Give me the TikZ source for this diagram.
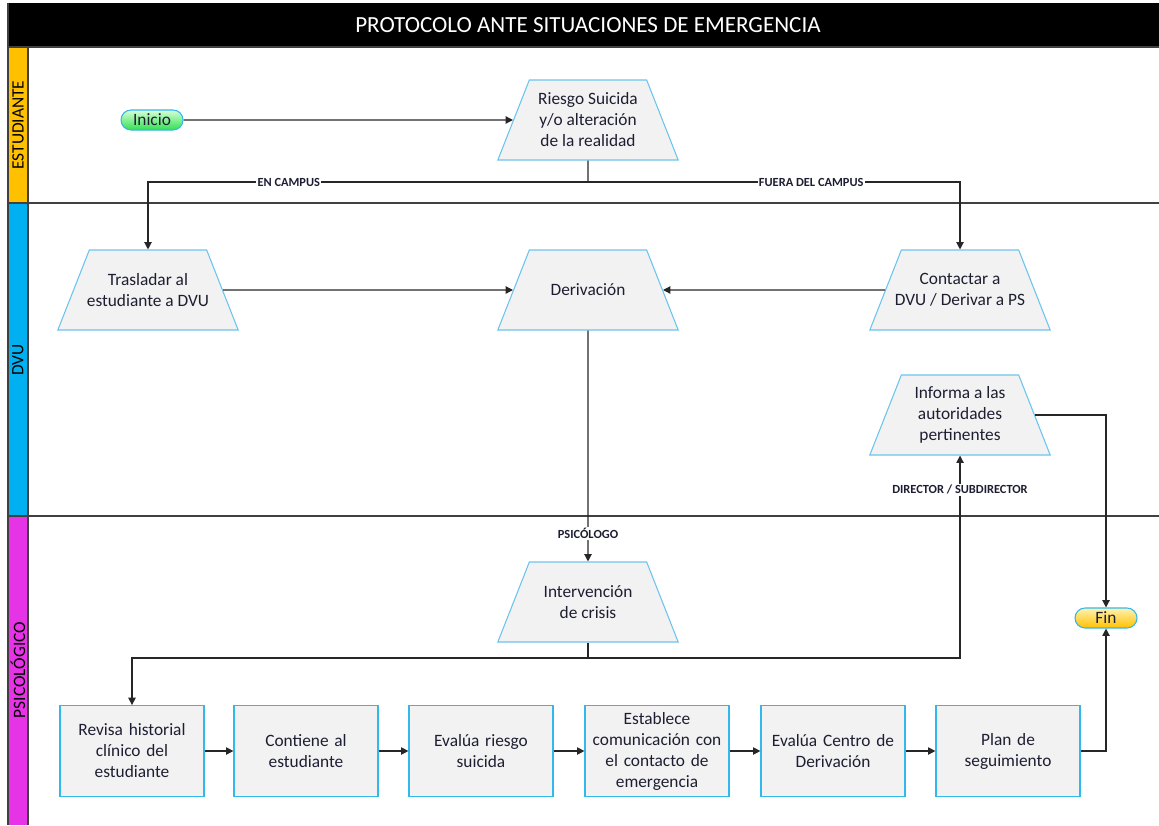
\documentclass[tikz,border=0pt]{standalone}
\usepackage{fontspec}
\setmainfont{Carlito}
\usetikzlibrary{shapes.geometric,arrows.meta,positioning}
\definecolor{boxfill}{HTML}{F2F2F2}
\definecolor{trapline}{HTML}{6CC4EE}
\definecolor{rectline}{HTML}{33B8EC}
\definecolor{txt}{HTML}{1E1E32}
\definecolor{laneest}{HTML}{FFC000}
\definecolor{lanedvu}{HTML}{00B0F0}
\definecolor{lanepsi}{HTML}{E633E6}
\definecolor{inicioA}{HTML}{D8FFD8}
\definecolor{inicioB}{HTML}{30E050}
\definecolor{finA}{HTML}{FFF2B0}
\tikzset{
  trap/.style={trapezium,trapezium stretches body,trapezium left angle=68.5,trapezium right angle=68.5,
    minimum width=135pt,inner xsep=-6pt,inner ysep=7.5pt,fill=boxfill,draw=trapline,line width=0.8pt,
    text=txt,font=\fontsize{13}{15.75}\selectfont,
    execute at begin node={\begin{minipage}[c][45pt][c]{100pt}\centering},
    execute at end node={\end{minipage}}},
  task/.style={rectangle,minimum width=108pt,minimum height=68pt,text width=104pt,inner sep=1pt,
    fill=boxfill,draw=rectline,line width=0.9pt,align=center,text=txt,font=\fontsize{13}{15.75}\selectfont},
  pill/.style={rectangle,rounded corners=7.5pt,minimum width=46.5pt,minimum height=15pt,inner sep=1pt,
    draw=rectline,line width=0.8pt,text=txt,font=\fontsize{13}{14}\selectfont},
  arr/.style={draw=black!85,line width=0.9pt,-{Triangle[length=5.5pt,width=5.5pt]}},
  conn/.style={draw=black!85,line width=0.9pt},
  lbl/.style={fill=white,inner sep=1pt,text=txt,font=\bfseries\fontsize{9.3}{11}\selectfont},
  lane/.style={rotate=90,text=black,font=\fontsize{13}{14}\selectfont}
}
\begin{document}
\begin{tikzpicture}[x=0.75pt,y=-0.75pt]
  \useasboundingbox (0,0) rectangle (1159,825);
  % swimlanes
  \fill[black] (8,3) rectangle (1159,47);
  \node[text=white,font=\fontsize{17.3}{19}\selectfont] (title) at (588,25) {PROTOCOLO ANTE SITUACIONES DE EMERGENCIA};
  \fill[laneest] (8,47) rectangle (28,203);
  \fill[lanedvu] (8,203) rectangle (28,516);
  \fill[lanepsi] (8,516) rectangle (28,825);
  \draw[black!75,line width=1.1pt] (8,3) -- (8,825) (28,47) -- (28,825);
  \draw[black!75,line width=1.1pt] (8,47) -- (1159,47) (8,203) -- (1159,203) (8,516) -- (1159,516);
  \node[lane] (estudiante) at (18,125) {ESTUDIANTE};
  \node[lane] (dvu) at (18,360) {DVU};
  \node[lane] (psicologico) at (18,670) {PSICOLÓGICO};

  % nodes
  \node[pill,top color=inicioA,bottom color=inicioB] (inicio) at (152,120) {Inicio};
  \node[trap] (riesgo) at (588,120) {Riesgo Suicida\\y/o alteración\\de la realidad};
  \node[trap] (trasladar) at (148,290) {Trasladar al\\estudiante a DVU};
  \node[trap] (derivacion) at (588,290) {Derivación};
  \node[trap] (contactar) at (960,290) {Contactar a\\DVU / Derivar a PS};
  \node[trap] (informa) at (960,415) {Informa a las\\autoridades\\pertinentes};
  \node[trap] (intervencion) at (588,602) {Intervención\\de crisis};
  \node[pill,top color=finA,bottom color=laneest] (fin) at (1106,618) {Fin};
  \node[task] (revisa) at (132,751) {Revisa historial\\clínico del\\estudiante};
  \node[task] (contiene) at (306,751) {Contiene al\\estudiante};
  \node[task] (evalua) at (481,751) {Evalúa riesgo\\suicida};
  \node[task] (establece) at (657,751) {Establece\\comunicación con\\el contacto de\\emergencia};
  \node[task] (centro) at (833,751) {Evalúa Centro de\\Derivación};
  \node[task] (plan) at (1008,751) {Plan de\\seguimiento};

  % connectors
  \coordinate (split1) at (588,182);
  \coordinate (split2) at (588,658);
  \draw[arr] (inicio) -- (riesgo);
  \draw[conn] (riesgo) -- (split1);
  \draw[arr] (split1) -| node[lbl,pos=0.34] {EN CAMPUS} (trasladar);
  \draw[arr] (split1) -| node[lbl,pos=0.3] {FUERA DEL CAMPUS} (contactar);
  \draw[arr] (trasladar) -- (derivacion);
  \draw[arr] (contactar) -- (derivacion);
  \draw[arr] (derivacion) -- node[lbl,pos=0.88] {PSICÓLOGO} (intervencion);
  \draw[conn] (intervencion) -- (split2);
  \draw[arr] (split2) -| (revisa);
  \draw[arr] (split2) -| node[lbl,pos=0.916] {DIRECTOR / SUBDIRECTOR} (informa);
  \draw[arr] (informa) -| (fin);
  \foreach \a/\b in {revisa/contiene,contiene/evalua,evalua/establece,establece/centro,centro/plan}
    \draw[arr] (\a) -- (\b);
  \draw[arr] (plan) -| (fin);
\end{tikzpicture}
\end{document}
